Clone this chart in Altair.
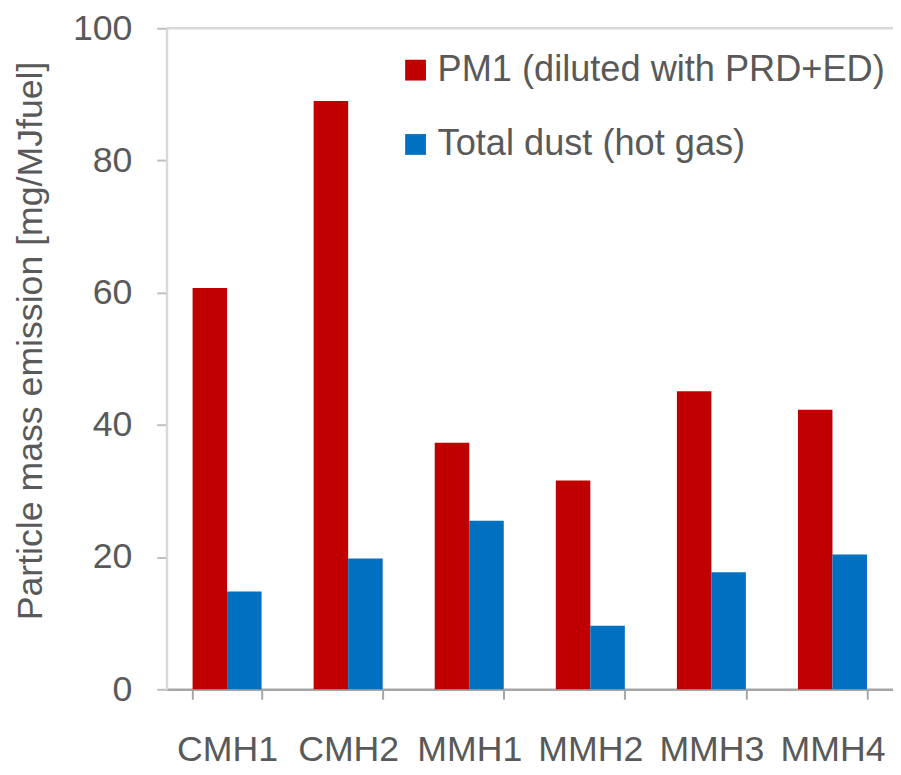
import altair as alt
import pandas as pd

categories = ["CMH1", "CMH2", "MMH1", "MMH2", "MMH3", "MMH4"]
series = ["PM1 (diluted with PRD+ED)", "Total dust (hot gas)"]
pm1_values = [60.7, 89.0, 37.3, 31.6, 45.1, 42.3]
dust_values = [14.8, 19.8, 25.5, 9.6, 17.7, 20.4]
colors = ["#C00000", "#0070C0"]
y_ticks = [0, 20, 40, 60, 80, 100]
top_line = [100]

rows = []
for i, c in enumerate(categories):
    rows.append({"cat": c, "series": series[0], "value": pm1_values[i]})
    rows.append({"cat": c, "series": series[1], "value": dust_values[i]})
df = pd.DataFrame(rows)

FONT = "Liberation Sans"
TXT = "#595959"

bars = alt.Chart(df).mark_bar().encode(
    x=alt.X("cat:N", sort=categories, title=None,
            scale=alt.Scale(paddingInner=0.43, paddingOuter=0.215),
            axis=alt.Axis(labelAngle=0, labelFontSize=36, labelColor=TXT, labelFont=FONT,
                          domainColor="#A6A6A6", domainWidth=2.5, tickColor="#A6A6A6",
                          tickWidth=2, tickSize=10, tickBand="extent",
                          labelPadding=34, labelBaseline="top")),
    xOffset=alt.XOffset("series:N", sort=series),
    y=alt.Y("value:Q", scale=alt.Scale(domain=[0, 100]),
            title="Particle mass emission [mg/MJfuel]",
            axis=alt.Axis(values=y_ticks, grid=False, labelFontSize=36, labelColor=TXT,
                          labelFont=FONT, domainColor="#D9D9D9", domainWidth=2.5,
                          tickColor="#BFBFBF", tickWidth=2, tickSize=10, labelPadding=25,
                          titleFontSize=36, titleFont=FONT, titleColor=TXT,
                          titleFontWeight="normal", titlePadding=23, titleY=315)),
    color=alt.Color("series:N", sort=series,
                    scale=alt.Scale(domain=series, range=colors),
                    legend=alt.Legend(title=None, orient="none", legendX=233, legendY=24,
                                      symbolType="square", symbolSize=441,
                                      symbolStrokeWidth=0, labelFontSize=36.5,
                                      labelFont=FONT, labelColor=TXT, labelOffset=4,
                                      rowPadding=38, labelLimit=600)),
)

rule = alt.Chart(pd.DataFrame({"y": top_line})).mark_rule(
    color="#D9D9D9", strokeWidth=2.5).encode(y="y:Q")

chart = alt.layer(bars, rule).properties(
    width=733, height=667,
    autosize=alt.AutoSizeParams(type="none"),
    padding={"left": 160, "top": 17, "right": 0, "bottom": 80},
).configure_view(stroke=None)

chart.save("out.html", embed_options={"renderer": "svg", "actions": False})
